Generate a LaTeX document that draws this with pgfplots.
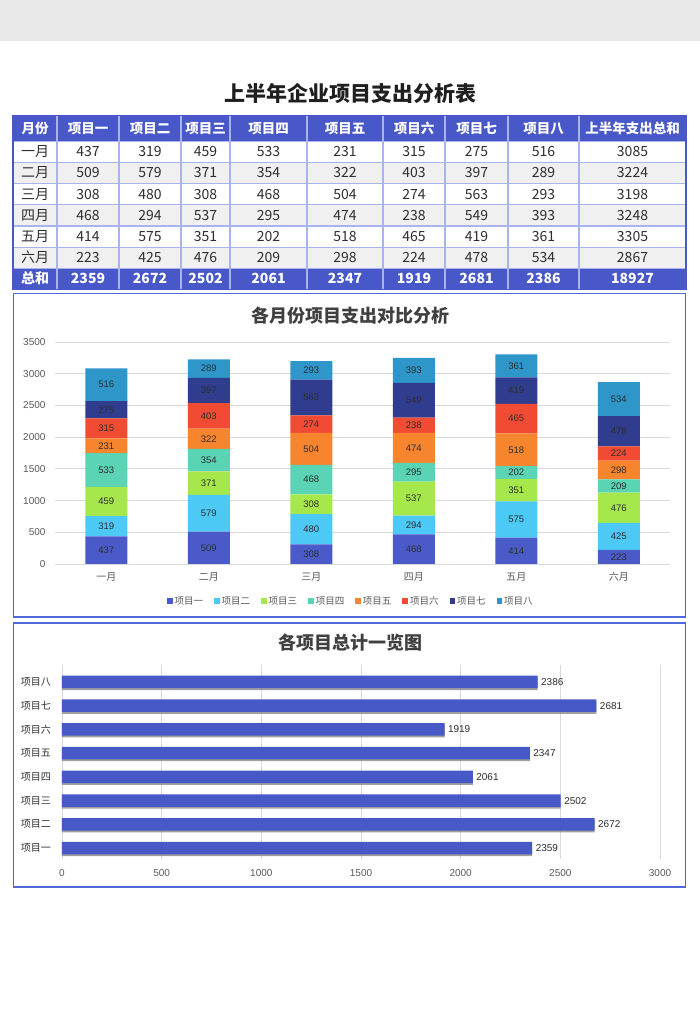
\documentclass[border=0pt]{standalone}
\usepackage{fontspec}
\setmainfont{Noto Sans CJK SC}
\newfontfamily\arial{Liberation Sans}
\usepackage{pgfplots}
\pgfplotsset{compat=1.18}
\usepackage{pgfplotstable}
\pgfplotsset{/pgf/number format/1000 sep={}}
\definecolor{bandgray}{HTML}{E9E9E9}
\definecolor{hdr}{HTML}{4858C8}
\definecolor{tline}{HTML}{A9B3EE}
\definecolor{rowgray}{HTML}{F0F0F0}
\definecolor{boxc}{HTML}{5068D8}
\definecolor{titc}{HTML}{404040}
\definecolor{tickc}{HTML}{595959}
\definecolor{valc}{HTML}{2E2E2E}
\definecolor{gridc}{HTML}{D9D9D9}
\definecolor{c1}{HTML}{4A5BC9}
\definecolor{c2}{HTML}{4DC9F6}
\definecolor{c3}{HTML}{A6E84B}
\definecolor{c4}{HTML}{5BD3B5}
\definecolor{c5}{HTML}{F7852E}
\definecolor{c6}{HTML}{F24B33}
\definecolor{c7}{HTML}{303C8E}
\definecolor{c8}{HTML}{2F96C9}
\definecolor{barc}{HTML}{4759C6}

\pgfplotstableread{
m a b c d e f g h
0 437 319 459 533 231 315 275 516
1 509 579 371 354 322 403 397 289
2 308 480 308 468 504 274 563 293
3 468 294 537 295 474 238 549 393
4 414 575 351 202 518 465 419 361
5 223 425 476 209 298 224 478 534
}\monthdata

\pgfplotstableread{
p t
0 2359
1 2672
2 2502
3 2061
4 2347
5 1919
6 2681
7 2386
}\totals

\begin{document}
\begin{tikzpicture}
\fill[white] (0,0) rectangle (700pt,1030pt);
\fill[bandgray] (0,989.3pt) rectangle (700pt,1030pt);
\begin{scope}[x=1pt,y=-1pt,yshift=1030pt]
  % main title
  \node[font=\bfseries\fontsize{21}{24}\selectfont, text=black!88] at (350,93) {上半年企业项目支出分析表};
  % table fills
  \fill[hdr] (13,115.5) rectangle (686,141.2);
  \fill[hdr] (13,268.4) rectangle (686,289.6);
  \fill[rowgray] (13,162.4) rectangle (686,183.6);
  \fill[rowgray] (13,204.8) rectangle (686,226.0);
  \fill[rowgray] (13,247.2) rectangle (686,268.4);
  % grid
  \foreach \xx in {57,119,181,230,307,383,445,508,579}
    \draw[tline, line width=1.2pt] (\xx,115.5) -- (\xx,289.6);
  \foreach \yy in {141.2,162.4,183.6,204.8,226.0,247.2,268.4}
    \draw[tline, line width=1.2pt] (13,\yy) -- (686,\yy);
  \draw[hdr, line width=1.5pt] (13,115.5) rectangle (686,289.6);
  % table text
  \foreach \row [count=\i from 0] in {
    {月份,项目一,项目二,项目三,项目四,项目五,项目六,项目七,项目八,上半年支出总和},
    {一月,437,319,459,533,231,315,275,516,3085},
    {二月,509,579,371,354,322,403,397,289,3224},
    {三月,308,480,308,468,504,274,563,293,3198},
    {四月,468,294,537,295,474,238,549,393,3248},
    {五月,414,575,351,202,518,465,419,361,3305},
    {六月,223,425,476,209,298,224,478,534,2867},
    {总和,2359,2672,2502,2061,2347,1919,2681,2386,18927}}
  {
    \ifnum\i=0 \def\yc{128.3}\else \pgfmathsetmacro\yc{141.2+21.2*(\i-1)+10.6}\fi
    \foreach \cell [count=\j from 0] in \row {
      \edef\xc{\ifcase\numexpr\j\relax 35\or 88\or 150\or 205.5\or 268.5\or 345\or 414\or 476.5\or 543.5\or 632.5\fi}
      \ifnum\i=0
        \node[font=\bfseries\fontsize{13.5}{15}\selectfont, text=white, text height=10pt, text depth=0pt, inner sep=0pt] at (\xc,\yc) {\cell};
      \else\ifnum\i=7
        \node[font=\bfseries\fontsize{14}{16}\selectfont, text=white, text height=10pt, text depth=0pt, inner sep=0pt] at (\xc,\yc) {\cell};
      \else
        \node[font=\fontsize{14}{16}\selectfont, text=valc, text height=10pt, text depth=0pt, inner sep=0pt] at (\xc,\yc) {\cell};
      \fi\fi
    }
  }
  % chart boxes
  \draw[boxc, line width=1.4pt, fill=white] (13.5,293.5) rectangle (685.5,617);
  \draw[boxc, line width=1.4pt, fill=white] (13.5,623) rectangle (685.5,887);
  \node[font=\bfseries\fontsize{18}{20}\selectfont, text=titc] at (350,316) {各月份项目支出对比分析};
  \node[font=\bfseries\fontsize{18}{20}\selectfont, text=titc] at (350,643) {各项目总计一览图};
\end{scope}

% stacked bar chart
\begin{axis}[
  at={(55pt,466pt)}, anchor=south west, scale only axis,
  width=615pt, height=222pt,
  ybar stacked, bar width=42pt,
  xmin=-0.5, xmax=5.5, ymin=0, ymax=3500,
  xtick={0,...,5}, xticklabels={一月,二月,三月,四月,五月,六月},
  ytick={0,500,...,3500},
  ymajorgrids, major grid style={draw=gridc, line width=0.8pt},
  axis line style={draw=none}, major tick length=0pt,
  /pgf/number format/assume math mode=true,
  yticklabel style={font=\arial\fontsize{10}{11}\selectfont, text=tickc, xshift=-6pt},
  xticklabel style={font=\fontsize{10}{12}\selectfont, text=tickc, yshift=-4.7pt},
  point meta=explicit,
  nodes near coords,
  every node near coord/.append style={font=\arial\fontsize{9.5}{11}\selectfont, text=valc, anchor=center},
  legend columns=8,
  legend style={at={(0.481,-0.167)}, anchor=center, draw=none, fill=none, font=\fontsize{9.5}{11}\selectfont, text=tickc, /tikz/every even column/.append style={column sep=9pt}, inner sep=0pt},
  legend image code/.code={\fill[#1] (0pt,-2.8pt) rectangle (5.6pt,2.8pt);},
]
\addplot[fill=c1, draw=none] table[x=m,y=a,meta=a]{\monthdata};
\addplot[fill=c2, draw=none] table[x=m,y=b,meta=b]{\monthdata};
\addplot[fill=c3, draw=none] table[x=m,y=c,meta=c]{\monthdata};
\addplot[fill=c4, draw=none] table[x=m,y=d,meta=d]{\monthdata};
\addplot[fill=c5, draw=none] table[x=m,y=e,meta=e]{\monthdata};
\addplot[fill=c6, draw=none] table[x=m,y=f,meta=f]{\monthdata};
\addplot[fill=c7, draw=none] table[x=m,y=g,meta=g]{\monthdata};
\addplot[fill=c8, draw=none] table[x=m,y=h,meta=h]{\monthdata};
\legend{项目一,项目二,项目三,项目四,项目五,项目六,项目七,项目八}
\end{axis}

% horizontal bar chart
\begin{axis}[
  at={(62pt,171.3pt)}, anchor=south west, scale only axis,
  width=598pt, height=193.3pt,
  xbar, bar width=12.5pt,
  xmin=0, xmax=3000, ymin=-0.45, ymax=7.7,
  ytick={0,...,7}, yticklabels={项目一,项目二,项目三,项目四,项目五,项目六,项目七,项目八},
  xtick={0,500,...,3000},
  xmajorgrids, major grid style={draw=gridc, line width=0.8pt},
  axis line style={draw=none}, major tick length=0pt,
  /pgf/number format/assume math mode=true,
  xticklabel style={font=\arial\fontsize{10}{11}\selectfont, text=tickc, yshift=-7.4pt},
  yticklabel style={font=\fontsize{10}{12}\selectfont, text=valc, xshift=-7.5pt},
]
\addplot[fill=black!50, draw=none, opacity=0.75, bar shift=-1.8pt] table[x=t,y=p]{\totals};
\addplot[fill=barc, draw=none, bar shift=0pt, nodes near coords, point meta=x,
  every node near coord/.append style={font=\arial\fontsize{10}{11}\selectfont, text=valc, anchor=west}] table[x=t,y=p]{\totals};
\end{axis}
\end{tikzpicture}
\end{document}
